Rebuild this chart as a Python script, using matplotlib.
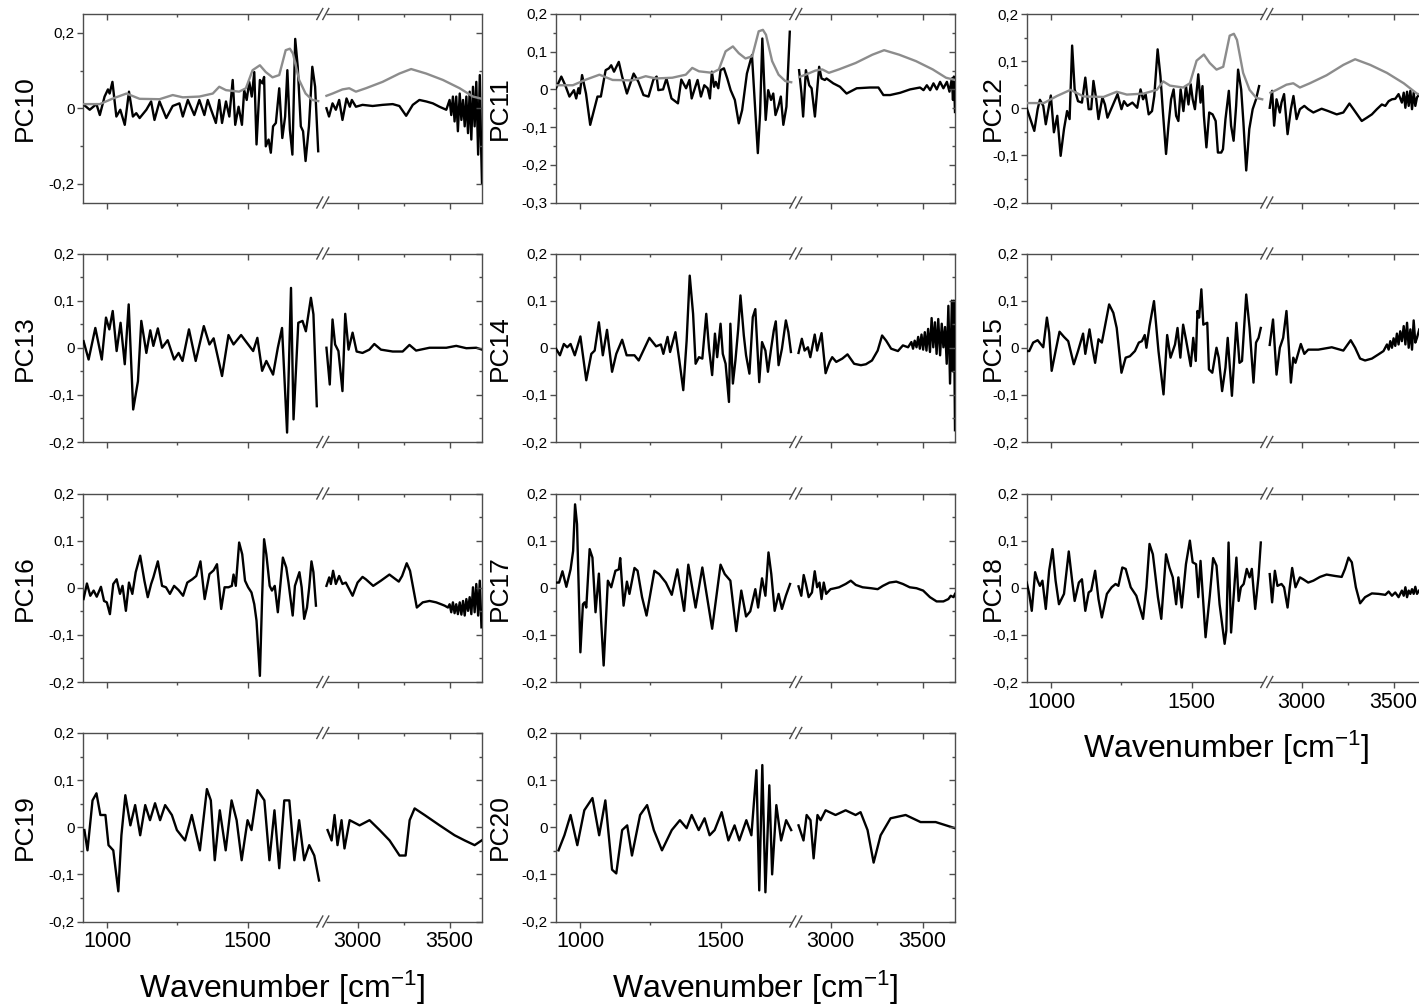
import numpy as np
import matplotlib
matplotlib.use('Agg')
import matplotlib.pyplot as plt
from matplotlib.ticker import FuncFormatter

plt.rcParams['font.family'] = ['Liberation Sans', 'DejaVu Sans']
plt.rcParams['mathtext.default'] = 'regular'

# loading spectra: (wavenumber, loading)
# "_a" = fingerprint part (left of break), "_b" = CH stretch part (right of break)
mean_a = [(913, 0.011), (973, 0.011), (1020, 0.026), (1068, 0.039), (1115, 0.025), (1186, 0.024),
          (1233, 0.035), (1269, 0.029), (1328, 0.031), (1376, 0.039), (1399, 0.057), (1423, 0.048),
          (1470, 0.044), (1494, 0.053), (1518, 0.101), (1544, 0.114), (1565, 0.096), (1589, 0.082),
          (1613, 0.088), (1636, 0.154), (1651, 0.158), (1662, 0.145), (1684, 0.075), (1707, 0.039),
          (1731, 0.022), (1752, 0.019)]
mean_b = [(2831, 0.033), (2864, 0.039), (2918, 0.050), (2955, 0.053), (2991, 0.044), (3045, 0.053),
          (3136, 0.070), (3227, 0.092), (3291, 0.104), (3373, 0.092), (3464, 0.075), (3555, 0.053),
          (3627, 0.031), (3676, 0.025)]

pc10_a = [(913, 0.011), (937, -0.004), (961, 0.011), (973, -0.018), (990, 0.031), (1002, 0.050),
          (1008, 0.039), (1018, 0.070), (1032, -0.022), (1046, -0.004), (1062, -0.044), (1077, 0.044),
          (1091, -0.022), (1103, -0.013), (1115, -0.026), (1139, -0.004), (1156, 0.018), (1168, -0.031),
          (1186, 0.018), (1210, -0.026), (1233, 0.006), (1257, 0.013), (1269, -0.022), (1287, 0.022),
          (1310, -0.018), (1328, 0.022), (1346, -0.018), (1358, 0.022), (1370, -0.004), (1387, -0.039),
          (1399, 0.022), (1409, -0.039), (1423, 0.018), (1435, -0.022), (1447, 0.075), (1456, -0.044),
          (1468, 0.004), (1480, -0.044), (1488, 0.048), (1497, 0.022), (1506, 0.070), (1515, 0.031),
          (1524, 0.096), (1532, -0.096), (1544, 0.075), (1553, 0.066), (1559, 0.083), (1565, -0.101),
          (1575, -0.083), (1583, -0.118), (1591, -0.048), (1601, -0.039), (1613, 0.053), (1624, -0.079),
          (1634, -0.022), (1642, 0.101), (1651, -0.057), (1660, -0.123), (1670, 0.184), (1679, 0.110),
          (1690, -0.048), (1698, -0.061), (1707, -0.140), (1719, -0.048), (1731, 0.110), (1741, 0.057),
          (1752, -0.114)]
pc10_b = [(2831, 0.0), (2845, -0.022), (2864, 0.013), (2882, -0.004), (2900, 0.022), (2918, -0.031),
          (2940, 0.026), (2958, 0.004), (2969, 0.022), (2991, 0.004), (3027, 0.009), (3082, 0.006),
          (3136, 0.009), (3191, 0.011), (3227, 0.006), (3264, -0.020), (3300, 0.009), (3336, 0.022),
          (3373, 0.018), (3409, 0.013), (3445, 0.004), (3482, -0.004), (3500, 0.022), (3509, -0.018),
          (3518, 0.031), (3527, -0.035), (3536, 0.031), (3545, -0.061), (3555, 0.039), (3564, -0.031),
          (3573, 0.022), (3582, -0.048), (3591, 0.031), (3600, -0.066), (3609, 0.044), (3618, -0.083),
          (3627, 0.057), (3636, -0.048), (3645, 0.070), (3655, -0.123), (3664, 0.088), (3671, -0.101),
          (3676, -0.200)]

pc11_a = [(913, 0.003), (932, 0.034), (946, 0.011), (961, -0.019), (977, -0.002), (985, -0.024),
          (993, 0.003), (998, -0.011), (1006, 0.038), (1020, -0.011), (1035, -0.094), (1061, -0.019),
          (1073, -0.019), (1090, 0.051), (1102, 0.056), (1110, 0.064), (1120, 0.047), (1137, 0.073),
          (1149, 0.034), (1166, -0.011), (1190, 0.042), (1207, 0.020), (1225, -0.015), (1243, -0.019),
          (1260, 0.025), (1272, 0.034), (1278, -0.002), (1295, 0.0), (1307, 0.029), (1325, -0.024),
          (1348, -0.037), (1360, 0.026), (1377, 0.003), (1389, 0.025), (1397, -0.024), (1410, 0.007),
          (1418, 0.025), (1430, -0.019), (1442, 0.011), (1454, 0.003), (1462, -0.024), (1469, 0.047),
          (1477, 0.007), (1483, 0.020), (1492, 0.003), (1500, 0.051), (1512, 0.056), (1524, 0.029),
          (1536, -0.002), (1551, -0.028), (1565, -0.090), (1577, -0.055), (1594, 0.042), (1612, 0.091),
          (1633, -0.169), (1641, -0.064), (1649, 0.135), (1661, -0.081), (1670, -0.002), (1680, -0.028),
          (1688, -0.011), (1696, -0.068), (1706, -0.046), (1715, -0.019), (1724, -0.094), (1735, -0.046),
          (1747, 0.153)]
pc11_b = [(2829, 0.051), (2842, -0.011), (2851, -0.072), (2866, 0.051), (2884, 0.011), (2897, 0.003),
          (2915, -0.072), (2938, 0.060), (2951, 0.029), (2969, 0.025), (2978, 0.029), (3015, 0.016),
          (3051, 0.007), (3087, -0.011), (3142, 0.003), (3214, 0.005), (3260, 0.005), (3287, -0.015),
          (3323, -0.015), (3378, -0.009), (3432, 0.0), (3486, 0.005), (3505, -0.002), (3523, 0.011),
          (3541, -0.002), (3559, 0.016), (3577, 0.0), (3595, 0.020), (3613, 0.003), (3632, 0.020),
          (3646, -0.006), (3659, 0.029), (3665, -0.028), (3670, 0.034), (3676, -0.060)]

pc12_a = [(912, 0.0), (921, -0.016), (939, -0.048), (951, -0.002), (959, 0.018), (971, 0.005),
          (980, -0.034), (998, 0.027), (1009, -0.051), (1021, -0.016), (1033, -0.101), (1045, -0.044),
          (1056, -0.006), (1065, -0.023), (1074, 0.133), (1083, 0.040), (1095, 0.015), (1109, 0.012),
          (1121, 0.065), (1133, -0.002), (1142, -0.002), (1150, 0.058), (1160, 0.019), (1168, -0.023),
          (1182, 0.023), (1191, 0.008), (1200, -0.020), (1218, 0.005), (1236, 0.030), (1250, -0.002),
          (1259, 0.015), (1271, 0.005), (1289, 0.012), (1306, 0.001), (1318, 0.040), (1327, 0.019),
          (1336, 0.030), (1347, -0.013), (1359, -0.006), (1367, 0.026), (1379, 0.125), (1389, 0.068),
          (1398, -0.009), (1409, -0.097), (1418, -0.034), (1427, 0.019), (1436, 0.040), (1445, -0.016),
          (1453, -0.027), (1461, 0.040), (1471, -0.006), (1480, 0.047), (1489, 0.008), (1497, 0.051),
          (1504, 0.019), (1512, -0.002), (1524, 0.072), (1532, 0.012), (1539, 0.047), (1544, -0.016),
          (1553, -0.083), (1563, -0.009), (1575, -0.013), (1586, -0.027), (1594, -0.094), (1606, -0.094),
          (1612, -0.087), (1621, -0.023), (1633, 0.037), (1641, -0.037), (1650, -0.069), (1659, 0.005),
          (1666, 0.082), (1677, 0.040), (1685, -0.030), (1695, -0.132), (1706, -0.044), (1718, -0.002),
          (1730, 0.019), (1741, 0.047)]
pc12_b = [(2827, 0.001), (2840, 0.037), (2851, -0.037), (2864, 0.019), (2882, -0.009), (2891, 0.012),
          (2905, 0.030), (2924, -0.055), (2942, -0.002), (2956, 0.026), (2973, -0.023), (2991, -0.002),
          (3015, 0.005), (3036, -0.002), (3064, -0.009), (3109, -0.001), (3145, -0.006), (3191, -0.013),
          (3227, -0.009), (3260, 0.010), (3282, -0.002), (3327, -0.027), (3355, -0.020), (3382, -0.013),
          (3409, -0.002), (3436, 0.008), (3455, 0.005), (3473, 0.015), (3491, 0.019), (3509, 0.020),
          (3527, 0.030), (3545, 0.012), (3555, 0.033), (3564, 0.001), (3573, 0.035), (3582, 0.005),
          (3591, 0.037), (3600, -0.002), (3609, 0.033), (3618, 0.005), (3627, 0.023), (3640, 0.030),
          (3655, 0.010), (3676, 0.020)]

pc13_a = [(915, 0.014), (933, -0.025), (957, 0.042), (980, -0.025), (995, 0.064), (1007, 0.039),
          (1019, 0.078), (1033, -0.007), (1047, 0.053), (1062, -0.035), (1076, 0.092), (1092, -0.131),
          (1109, -0.071), (1121, 0.057), (1139, -0.011), (1153, 0.037), (1164, 0.004), (1180, 0.041),
          (1195, 0.0), (1215, 0.016), (1238, -0.025), (1254, -0.011), (1268, -0.028), (1291, 0.039),
          (1315, -0.028), (1344, 0.046), (1364, 0.007), (1379, 0.020), (1409, -0.060), (1432, 0.027),
          (1450, 0.007), (1477, 0.027), (1497, 0.011), (1520, -0.007), (1535, 0.021), (1552, -0.049),
          (1567, -0.028), (1591, -0.057), (1608, 0.0), (1623, 0.042), (1641, -0.180), (1655, 0.127),
          (1664, -0.152), (1681, 0.053), (1696, 0.057), (1708, 0.035), (1726, 0.106), (1735, 0.071),
          (1747, -0.124)]
pc13_b = [(2831, 0.0), (2849, -0.078), (2864, 0.060), (2878, 0.007), (2896, -0.007), (2918, -0.092),
          (2933, 0.072), (2951, -0.004), (2973, 0.032), (2995, -0.008), (3027, -0.011), (3064, -0.004),
          (3091, 0.008), (3127, -0.004), (3191, -0.008), (3245, -0.008), (3282, 0.006), (3318, -0.006),
          (3391, 0.0), (3482, 0.0), (3536, 0.004), (3591, -0.001), (3645, 0.0), (3676, -0.004)]

pc14_a = [(913, -0.002), (927, -0.016), (941, 0.008), (953, 0.001), (965, 0.008), (980, -0.016),
          (1000, 0.024), (1021, -0.069), (1039, -0.013), (1051, -0.006), (1066, 0.054), (1080, -0.016),
          (1095, 0.038), (1113, -0.051), (1128, -0.013), (1149, 0.017), (1165, -0.016), (1193, -0.016),
          (1208, -0.027), (1246, 0.021), (1270, 0.003), (1287, 0.007), (1296, -0.013), (1311, 0.023),
          (1320, -0.009), (1339, 0.033), (1353, -0.027), (1367, -0.090), (1379, 0.015), (1390, 0.153),
          (1402, 0.072), (1411, -0.034), (1423, -0.020), (1435, -0.023), (1449, 0.072), (1459, -0.002),
          (1470, -0.058), (1480, 0.030), (1488, -0.020), (1500, 0.051), (1508, -0.013), (1518, -0.034),
          (1530, -0.115), (1535, 0.051), (1544, -0.076), (1553, -0.027), (1563, 0.040), (1571, 0.111),
          (1583, 0.026), (1591, -0.016), (1603, -0.055), (1615, 0.065), (1624, 0.082), (1638, -0.073),
          (1648, 0.012), (1660, -0.006), (1669, -0.051), (1681, 0.001), (1690, 0.037), (1697, 0.056),
          (1707, -0.037), (1719, -0.002), (1733, 0.058), (1742, 0.033), (1751, -0.009)]
pc14_b = [(2826, -0.011), (2844, 0.019), (2859, -0.006), (2877, 0.001), (2890, -0.020), (2914, 0.028),
          (2927, -0.006), (2951, 0.031), (2973, -0.054), (2995, -0.030), (3009, -0.020), (3031, -0.030),
          (3064, -0.023), (3092, -0.014), (3128, -0.034), (3165, -0.037), (3192, -0.035), (3225, -0.027),
          (3256, -0.006), (3280, 0.026), (3302, 0.015), (3329, -0.002), (3366, -0.007), (3393, 0.005),
          (3421, 0.001), (3439, 0.012), (3448, -0.002), (3457, 0.015), (3467, 0.001), (3476, 0.023),
          (3485, -0.002), (3494, 0.028), (3503, -0.004), (3512, 0.033), (3521, -0.006), (3530, 0.040),
          (3540, -0.009), (3549, 0.063), (3558, 0.001), (3567, 0.054), (3576, -0.013), (3585, 0.061),
          (3595, -0.016), (3604, 0.051), (3613, 0.001), (3622, 0.044), (3631, -0.034), (3640, 0.089),
          (3649, -0.076), (3659, 0.100), (3664, -0.050), (3670, 0.100), (3676, -0.175)]

pc15_a = [(912, -0.007), (921, -0.007), (935, 0.011), (951, 0.016), (971, 0.001), (984, 0.064),
          (992, 0.032), (1001, -0.049), (1015, -0.007), (1029, 0.034), (1045, 0.023), (1060, 0.014),
          (1080, -0.035), (1095, -0.007), (1113, 0.030), (1121, -0.013), (1136, 0.039), (1145, 0.004),
          (1156, -0.032), (1168, 0.018), (1180, 0.011), (1206, 0.092), (1221, 0.074), (1233, 0.042),
          (1250, -0.053), (1265, -0.021), (1280, -0.018), (1298, -0.007), (1312, 0.011), (1323, 0.014),
          (1333, 0.027), (1339, 0.0), (1350, 0.046), (1366, 0.099), (1382, -0.007), (1400, -0.099),
          (1413, 0.027), (1425, -0.021), (1441, 0.007), (1450, 0.042), (1460, -0.021), (1470, 0.049),
          (1480, 0.018), (1497, -0.039), (1506, 0.021), (1515, -0.028), (1521, 0.078), (1527, 0.064),
          (1535, 0.124), (1542, 0.049), (1556, 0.053), (1562, -0.046), (1574, -0.053), (1589, 0.0),
          (1597, -0.021), (1609, -0.092), (1621, -0.042), (1629, 0.021), (1644, -0.102), (1660, 0.053),
          (1671, -0.032), (1680, -0.028), (1695, 0.113), (1707, 0.042), (1721, -0.074), (1730, 0.011),
          (1739, 0.021), (1747, 0.042)]
pc15_b = [(2827, 0.006), (2845, 0.060), (2864, -0.057), (2882, 0.0), (2900, 0.021), (2918, 0.078),
          (2931, 0.0), (2942, -0.074), (2955, -0.021), (2967, -0.032), (2996, 0.008), (3015, -0.013),
          (3036, -0.004), (3091, -0.004), (3164, 0.001), (3227, -0.006), (3267, 0.016), (3291, 0.0),
          (3318, -0.023), (3345, -0.027), (3382, -0.023), (3418, -0.014), (3445, -0.007), (3464, 0.007),
          (3473, -0.004), (3482, 0.014), (3491, 0.0), (3500, 0.020), (3509, 0.004), (3518, 0.030),
          (3527, 0.007), (3536, 0.035), (3545, 0.014), (3555, 0.046), (3564, 0.007), (3573, 0.053),
          (3582, 0.0), (3591, 0.039), (3600, -0.004), (3609, 0.058), (3618, 0.011), (3627, 0.021),
          (3640, 0.040), (3655, 0.010), (3676, 0.030)]

pc16_a = [(915, -0.024), (927, 0.009), (939, -0.017), (951, -0.006), (962, -0.019), (977, 0.002),
          (988, -0.028), (998, -0.031), (1009, -0.056), (1021, 0.008), (1033, 0.018), (1045, -0.013),
          (1054, 0.004), (1066, -0.049), (1077, 0.011), (1089, -0.013), (1101, 0.033), (1117, 0.068),
          (1132, 0.015), (1144, -0.020), (1156, 0.008), (1164, 0.022), (1180, 0.056), (1195, 0.004),
          (1209, 0.001), (1223, -0.013), (1238, 0.004), (1254, -0.005), (1270, -0.017), (1285, 0.011),
          (1303, 0.018), (1317, 0.025), (1332, 0.056), (1347, -0.024), (1364, 0.029), (1379, 0.037),
          (1391, 0.050), (1406, -0.045), (1418, 0.001), (1432, 0.001), (1444, 0.004), (1450, 0.028),
          (1458, 0.004), (1470, 0.096), (1481, 0.071), (1491, 0.015), (1502, 0.001), (1514, -0.010),
          (1524, -0.035), (1532, -0.070), (1544, -0.187), (1552, -0.020), (1559, 0.103), (1567, 0.071),
          (1579, 0.004), (1587, -0.006), (1597, 0.004), (1608, -0.052), (1626, 0.064), (1638, 0.043),
          (1646, 0.011), (1661, -0.059), (1669, 0.004), (1685, 0.033), (1693, 0.001), (1702, -0.066),
          (1712, -0.042), (1720, 0.001), (1728, 0.056), (1735, 0.033), (1744, -0.038)]
pc16_b = [(2831, 0.004), (2846, 0.022), (2855, 0.008), (2867, 0.036), (2882, 0.008), (2900, 0.025),
          (2918, 0.008), (2936, 0.011), (2973, -0.017), (3000, 0.011), (3027, 0.023), (3045, 0.018),
          (3085, 0.004), (3127, 0.015), (3173, 0.028), (3224, 0.013), (3242, 0.025), (3267, 0.052),
          (3285, 0.036), (3322, -0.042), (3354, -0.031), (3391, -0.028), (3427, -0.031), (3454, -0.035),
          (3473, -0.038), (3491, -0.042), (3500, -0.035), (3509, -0.052), (3518, -0.031), (3527, -0.054),
          (3536, -0.035), (3545, -0.056), (3555, -0.031), (3564, -0.057), (3573, -0.028), (3582, -0.059),
          (3591, -0.024), (3600, -0.049), (3609, -0.020), (3618, -0.056), (3627, 0.001), (3636, -0.052),
          (3645, 0.008), (3655, -0.059), (3664, 0.015), (3673, -0.084)]

pc17_a = [(913, 0.011), (924, 0.011), (936, 0.035), (950, 0.002), (965, 0.039), (974, 0.078),
          (981, 0.177), (988, 0.135), (1000, -0.137), (1009, -0.035), (1015, -0.031), (1021, -0.042),
          (1033, 0.082), (1043, 0.064), (1054, -0.052), (1066, 0.030), (1074, -0.070), (1083, -0.165),
          (1098, 0.015), (1110, 0.001), (1125, 0.036), (1137, 0.039), (1142, 0.063), (1154, -0.038),
          (1166, 0.013), (1175, -0.013), (1193, 0.042), (1204, 0.036), (1220, -0.020), (1236, -0.059),
          (1264, 0.036), (1281, 0.029), (1305, 0.011), (1326, -0.015), (1346, 0.039), (1370, -0.049),
          (1385, 0.049), (1411, -0.042), (1435, 0.043), (1470, -0.087), (1500, 0.049), (1515, 0.029),
          (1535, 0.015), (1556, -0.092), (1574, -0.006), (1591, -0.061), (1606, -0.050), (1624, -0.003),
          (1634, -0.042), (1648, 0.020), (1660, -0.017), (1671, 0.075), (1681, 0.029), (1693, -0.049),
          (1707, -0.013), (1719, -0.045), (1733, -0.017), (1748, 0.008)]
pc17_b = [(2826, 0.003), (2841, -0.017), (2854, 0.027), (2866, 0.008), (2881, -0.020), (2899, -0.010),
          (2914, 0.035), (2927, 0.001), (2940, 0.011), (2951, -0.024), (2963, 0.011), (2976, -0.013),
          (3000, -0.003), (3024, -0.001), (3046, 0.001), (3082, 0.008), (3110, 0.015), (3137, 0.006),
          (3174, 0.001), (3220, -0.001), (3256, -0.003), (3284, 0.004), (3320, 0.011), (3357, 0.013),
          (3393, 0.008), (3430, 0.001), (3467, -0.001), (3503, -0.006), (3540, -0.020), (3576, -0.029),
          (3613, -0.029), (3640, -0.024), (3653, -0.017), (3668, -0.020), (3676, -0.013)]

pc18_a = [(912, 0.011), (921, -0.013), (930, -0.049), (942, 0.033), (951, 0.015), (959, 0.004),
          (968, 0.015), (980, -0.045), (992, 0.036), (1004, 0.082), (1015, 0.015), (1027, -0.035),
          (1045, -0.013), (1062, 0.077), (1074, 0.015), (1083, -0.028), (1098, 0.011), (1109, 0.018),
          (1121, -0.049), (1133, -0.010), (1142, -0.006), (1156, 0.036), (1168, -0.024), (1180, -0.063),
          (1198, -0.013), (1215, 0.001), (1229, 0.008), (1239, 0.004), (1253, 0.043), (1265, 0.040),
          (1283, 0.001), (1303, -0.017), (1327, -0.066), (1339, 0.001), (1350, 0.093), (1362, 0.071),
          (1380, -0.020), (1392, -0.066), (1409, 0.071), (1421, 0.043), (1433, 0.022), (1445, -0.035),
          (1453, 0.022), (1465, -0.042), (1480, 0.050), (1494, 0.100), (1504, 0.054), (1516, 0.050),
          (1524, -0.020), (1532, 0.057), (1550, -0.105), (1565, -0.017), (1577, 0.063), (1589, 0.047),
          (1600, -0.035), (1618, -0.119), (1624, -0.091), (1632, 0.096), (1641, -0.095), (1660, 0.064),
          (1668, -0.028), (1676, 0.001), (1686, 0.008), (1697, 0.040), (1707, 0.022), (1715, 0.040),
          (1727, -0.045), (1739, 0.025), (1747, 0.096)]
pc18_b = [(2827, 0.029), (2840, -0.031), (2855, 0.036), (2869, 0.004), (2891, 0.008), (2905, 0.001),
          (2924, -0.042), (2936, 0.001), (2949, 0.042), (2967, 0.001), (2991, 0.022), (3009, 0.018),
          (3036, 0.011), (3064, 0.015), (3100, 0.023), (3136, 0.028), (3182, 0.025), (3218, 0.023),
          (3236, 0.040), (3255, 0.064), (3273, 0.054), (3295, 0.001), (3318, -0.033), (3345, -0.020),
          (3382, -0.012), (3418, -0.013), (3455, -0.015), (3473, -0.008), (3491, -0.017), (3509, -0.010),
          (3527, -0.020), (3545, -0.006), (3555, -0.017), (3564, 0.001), (3573, -0.020), (3582, -0.006),
          (3591, -0.013), (3600, -0.003), (3609, -0.013), (3618, 0.002), (3627, -0.013), (3640, -0.005),
          (3655, -0.015), (3676, -0.010)]

pc19_a = [(918, -0.006), (929, -0.049), (947, 0.057), (961, 0.072), (975, 0.026), (993, 0.026),
          (1004, -0.038), (1021, -0.049), (1039, -0.136), (1050, -0.017), (1064, 0.068), (1082, 0.004),
          (1099, 0.047), (1117, -0.017), (1135, 0.047), (1152, 0.015), (1170, 0.051), (1188, 0.015),
          (1206, 0.047), (1230, 0.026), (1248, -0.006), (1277, -0.028), (1301, 0.026), (1330, -0.049),
          (1355, 0.081), (1369, 0.057), (1383, -0.070), (1401, 0.036), (1422, -0.049), (1443, 0.057),
          (1461, 0.015), (1479, -0.070), (1500, 0.015), (1514, -0.006), (1535, 0.079), (1560, 0.057),
          (1578, -0.070), (1596, 0.036), (1613, -0.087), (1631, 0.057), (1649, 0.057), (1667, -0.070),
          (1684, 0.015), (1702, -0.070), (1720, -0.038), (1738, -0.060), (1755, -0.113)]
pc19_b = [(2837, -0.006), (2859, -0.028), (2875, 0.026), (2891, -0.038), (2913, 0.015), (2929, -0.045),
          (2957, 0.015), (3011, 0.004), (3065, 0.015), (3120, -0.006), (3174, -0.028), (3228, -0.060),
          (3261, -0.060), (3283, 0.015), (3310, 0.040), (3364, 0.026), (3446, 0.004), (3527, -0.017),
          (3582, -0.028), (3636, -0.038), (3674, -0.028)]

pc20_a = [(922, -0.049), (943, -0.017), (965, 0.026), (989, -0.038), (1014, 0.036), (1043, 0.062),
          (1067, -0.017), (1089, 0.057), (1113, -0.090), (1128, -0.098), (1149, -0.006), (1167, 0.004),
          (1184, -0.060), (1213, 0.026), (1238, 0.047), (1262, -0.006), (1291, -0.049), (1326, -0.006),
          (1355, 0.015), (1379, -0.002), (1397, 0.026), (1422, -0.006), (1443, 0.019), (1461, -0.017),
          (1479, -0.006), (1504, 0.032), (1528, -0.028), (1550, 0.004), (1567, -0.028), (1592, 0.015),
          (1610, -0.017), (1628, 0.121), (1638, -0.134), (1649, 0.132), (1660, -0.138), (1674, 0.089),
          (1684, -0.100), (1699, 0.047), (1716, -0.028), (1734, 0.015), (1752, -0.006)]
pc20_b = [(2826, 0.004), (2853, -0.028), (2870, 0.026), (2891, 0.015), (2908, -0.066), (2929, 0.026),
          (2946, 0.015), (2973, 0.036), (3027, 0.026), (3082, 0.036), (3136, 0.026), (3163, 0.032),
          (3201, -0.006), (3234, -0.075), (3272, -0.017), (3326, 0.019), (3408, 0.026), (3489, 0.011),
          (3571, 0.011), (3676, -0.002)]

# axis break: 913-1767 takes 60 % of the width, 2809-3676 the rest
X0, B1, B2, X1 = 913.0, 1767.0, 2809.0, 3676.0
FRAC = 0.6
EPS = 1e-6


def fwd(w):
    w = np.asarray(w, dtype=float)
    left = (w - X0) / (B1 - X0) * FRAC
    gap = FRAC + (w - B1) / (B2 - B1) * EPS
    right = FRAC + EPS + (w - B2) / (X1 - B2) * (1 - FRAC - EPS)
    return np.where(w <= B1, left, np.where(w >= B2, right, gap))


def inv(u):
    u = np.asarray(u, dtype=float)
    left = X0 + u / FRAC * (B1 - X0)
    gap = B1 + (u - FRAC) / EPS * (B2 - B1)
    right = B2 + (u - FRAC - EPS) / (1 - FRAC - EPS) * (X1 - B2)
    return np.where(u <= FRAC, left, np.where(u >= FRAC + EPS, right, gap))


def comma(v, pos):
    if abs(v) < 1e-9:
        return '0'
    return ('%.1f' % v).replace('.', ',')


# name, data, row, col, ylim, major y ticks, minor y ticks, mean spectrum, x labels
panels = [
    ('PC10', pc10_a, pc10_b, 0, 0, (-0.25, 0.25), [-0.2, 0, 0.2], [-0.1, 0.1], True, False),
    ('PC11', pc11_a, pc11_b, 0, 1, (-0.3, 0.2), [-0.3, -0.2, -0.1, 0, 0.1, 0.2],
     [-0.25, -0.15, -0.05, 0.05, 0.15], True, False),
    ('PC12', pc12_a, pc12_b, 0, 2, (-0.2, 0.2), None, None, True, False),
    ('PC13', pc13_a, pc13_b, 1, 0, (-0.2, 0.2), None, None, False, False),
    ('PC14', pc14_a, pc14_b, 1, 1, (-0.2, 0.2), None, None, False, False),
    ('PC15', pc15_a, pc15_b, 1, 2, (-0.2, 0.2), None, None, False, False),
    ('PC16', pc16_a, pc16_b, 2, 0, (-0.2, 0.2), None, None, False, False),
    ('PC17', pc17_a, pc17_b, 2, 1, (-0.2, 0.2), None, None, False, False),
    ('PC18', pc18_a, pc18_b, 2, 2, (-0.2, 0.2), None, None, False, True),
    ('PC19', pc19_a, pc19_b, 3, 0, (-0.2, 0.2), None, None, False, True),
    ('PC20', pc20_a, pc20_b, 3, 1, (-0.2, 0.2), None, None, False, True),
]

W, H = 1419.0, 1007.0
col_left = [83, 556, 1027]
row_top = [14, 253.5, 493.5, 733]
ax_w, ax_h = 399, 188.5
ylab_x = [-0.115, -0.11, -0.055]
edge = '#4d4d4d'

fig = plt.figure(figsize=(W / 100, H / 100), dpi=100)

for name, seg_a, seg_b, r, c, ylim, ymaj, ymin, mean, xlab in panels:
    ax = fig.add_axes([col_left[c] / W, 1 - (row_top[r] + ax_h) / H, ax_w / W, ax_h / H])
    ax.set_xscale('function', functions=(fwd, inv))
    for seg in (seg_a, seg_b):
        wn, val = zip(*seg)
        ax.plot(wn, val, color='black', lw=1.7, zorder=3)
    if mean:
        for seg in (mean_a, mean_b):
            wn, val = zip(*seg)
            ax.plot(wn, val, color='#8c8c8c', lw=1.7, zorder=4)
    ax.set_xlim(X0, X1)
    ax.set_ylim(*ylim)
    if ymaj is None:
        ymaj = [-0.2, -0.1, 0, 0.1, 0.2]
        ymin = [-0.15, -0.05, 0.05, 0.15]

    # twins only carry the inward ticks on top and right
    top = ax.twiny()
    right = ax.twinx()
    top.set_xscale('function', functions=(fwd, inv))
    for a in (ax, top):
        a.set_xlim(X0, X1)
        a.set_xticks([1000, 1500, 3000, 3500])
        a.set_xticks([1250, 3250], minor=True)
    for a in (ax, right):
        a.set_ylim(*ylim)
        a.set_yticks(ymaj)
        a.set_yticks(ymin, minor=True)
    for a in (top, right):
        for s in a.spines.values():
            s.set_visible(False)
    ax.yaxis.set_major_formatter(FuncFormatter(comma))
    ax.tick_params(which='both', direction='out', color=edge, width=1.0)
    ax.tick_params(which='major', length=4)
    ax.tick_params(which='minor', length=2.5)
    ax.tick_params(axis='y', labelsize=11, pad=2)
    ax.tick_params(axis='x', labelsize=15.5, pad=3, labelbottom=xlab)
    top.tick_params(which='both', direction='in', color=edge, width=1.0, labeltop=False)
    top.tick_params(which='major', length=4)
    top.tick_params(which='minor', length=2.5)
    right.tick_params(which='both', direction='in', color=edge, width=1.0, labelright=False)
    right.tick_params(which='major', length=4)
    right.tick_params(which='minor', length=2.5)
    for s in ax.spines.values():
        s.set_color(edge)
        s.set_linewidth(1.0)

    ax.set_ylabel(name, fontsize=19)
    ax.yaxis.set_label_coords(ylab_x[c], 0.5)
    if xlab:
        ax.set_xlabel('Wavenumber [cm$^{-1}$]', fontsize=23)
        ax.xaxis.set_label_coords(0.5, -0.25)

    # break marks "//" on top and bottom spines
    dx, dy = 6.0 / ax_w, 5.5 / ax_h
    for yb in (0.0, 1.0):
        ax.plot([0.5925, 0.6095], [yb, yb], transform=ax.transAxes, color='white',
                lw=2.5, clip_on=False, zorder=6, solid_capstyle='butt')
        for xc in (0.5935, 0.6085):
            ax.plot([xc - dx / 2, xc + dx / 2], [yb - dy, yb + dy], transform=ax.transAxes,
                    color=edge, lw=1.0, clip_on=False, zorder=7)

fig.savefig('out.png', dpi=100)
